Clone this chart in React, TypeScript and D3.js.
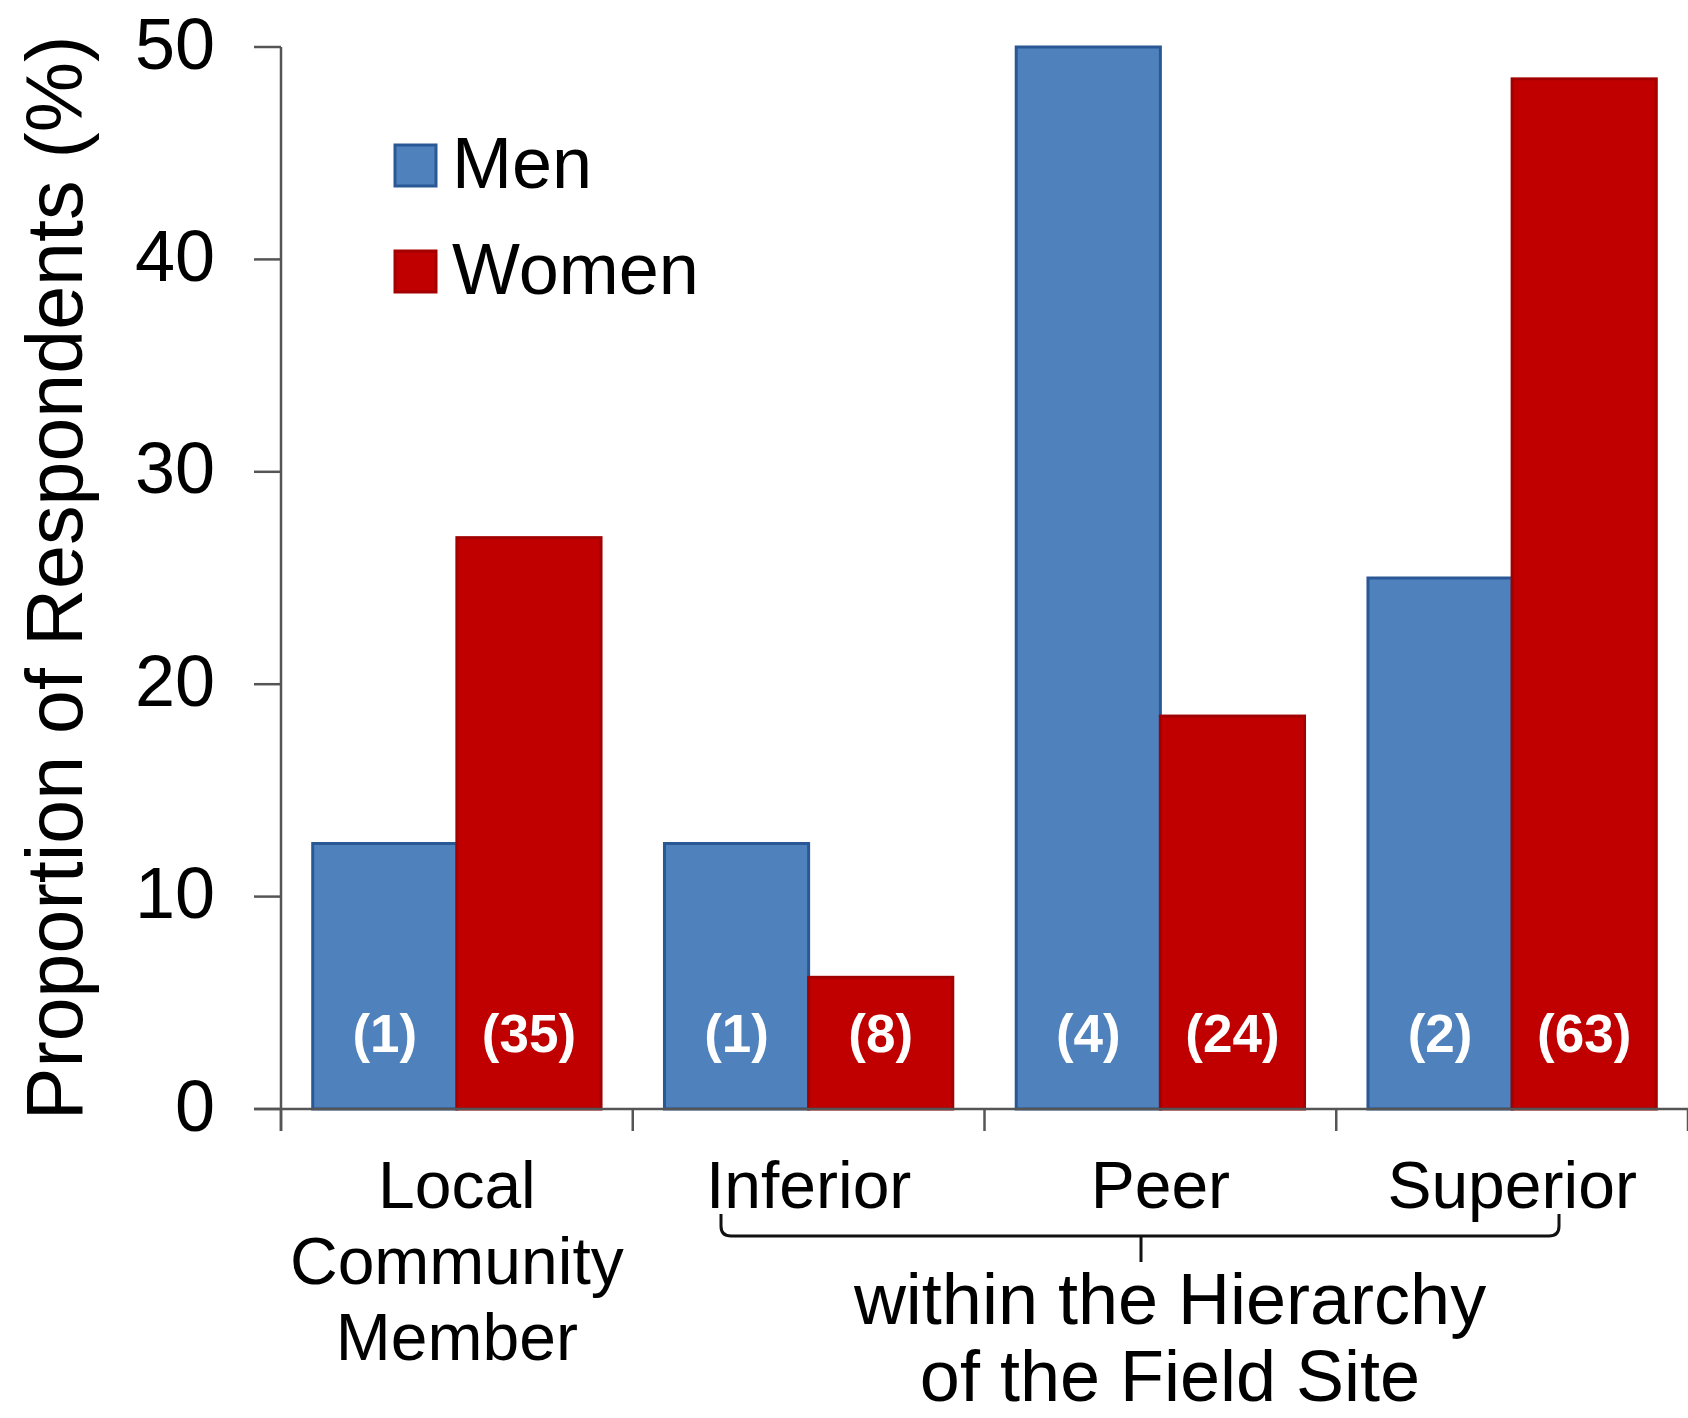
import React from "react";
import * as d3 from "d3";

// Categories along the x axis
const categories = ["Local", "Inferior", "Peer", "Superior"];
const categoryLines: string[][] = [
  ["Local", "Community", "Member"],
  ["Inferior"],
  ["Peer"],
  ["Superior"],
];
const seriesNames = ["Men", "Women"];

// Proportion of respondents (%) per category
const menValues = [12.5, 12.5, 50.0, 25.0];
const womenValues = [26.9, 6.2, 18.5, 48.5];

// Number of respondents shown inside each bar
const menCounts = [1, 1, 4, 2];
const womenCounts = [35, 8, 24, 63];

const yTicks = [0, 10, 20, 30, 40, 50];
const yTitle = "Proportion of Respondents (%)";
const groupLabel = ["within the Hierarchy", "of the Field Site"];

const W = 1688;
const H = 1418;
const FONT = "'Liberation Sans', Arial, Helvetica, sans-serif";

const fills: Record<string, string> = { Men: "#4F81BD", Women: "#C00000" };
const strokes: Record<string, string> = { Men: "#2A5896", Women: "#A30000" };

export default function App() {
  const left = 281;
  const right = 1688;
  const y = d3.scaleLinear().domain([0, 50]).range([1109, 47]);
  const x = d3.scaleBand<string>().domain(categories).range([left, right]).paddingInner(0).paddingOuter(0);
  const xs = d3
    .scaleBand<string>()
    .domain(seriesNames)
    .range([0, x.bandwidth()])
    .paddingInner(0)
    .paddingOuter(0.22);

  const series = [
    { name: "Men", values: menValues, counts: menCounts },
    { name: "Women", values: womenValues, counts: womenCounts },
  ];

  const y0 = y(0);
  const bandEdges = [...categories.map((c) => x(c)!), right];
  const axisColor = "#555";

  // bracket grouping the hierarchy categories
  const bx0 = 721;
  const bx1 = 1559;
  const bTop = 1214;
  const bLine = 1236;
  const bMid = 1141;
  const r = 10;
  const bracketPath = [
    `M${bx0},${bTop}`,
    `L${bx0},${bLine - r}`,
    `Q${bx0},${bLine} ${bx0 + r},${bLine}`,
    `L${bx1 - r},${bLine}`,
    `Q${bx1},${bLine} ${bx1},${bLine - r}`,
    `L${bx1},${bTop}`,
    `M${bMid},${bLine}`,
    `L${bMid},${bLine + 26}`,
  ].join(" ");

  return (
    <svg
      width={W}
      height={H}
      viewBox={`0 0 ${W} ${H}`}
      style={{ position: "absolute", left: 0, top: 0, background: "#fff" }}
      fontFamily={FONT}
    >
      <rect x={0} y={0} width={W} height={H} fill="#fff" />

      {/* bars */}
      {series.map((s) =>
        categories.map((c, i) => {
          const bx = x(c)! + xs(s.name)!;
          const by = y(s.values[i]);
          return (
            <g key={s.name + c}>
              <rect
                x={bx}
                y={by}
                width={xs.bandwidth()}
                height={y0 - by}
                fill={fills[s.name]}
                stroke={strokes[s.name]}
                strokeWidth={3}
              />
              <text
                x={bx + xs.bandwidth() / 2}
                y={1052}
                textAnchor="middle"
                fill="#fff"
                fontWeight="bold"
                fontSize={53}
              >
                ({s.counts[i]})
              </text>
            </g>
          );
        })
      )}

      {/* y axis */}
      <line x1={left} x2={left} y1={y(50)} y2={y0 + 22} stroke={axisColor} strokeWidth={2.5} />
      {yTicks.map((t) => (
        <g key={t}>
          <line x1={left - 27} x2={left} y1={y(t)} y2={y(t)} stroke={axisColor} strokeWidth={2.5} />
          <text x={215} y={y(t)} dy="0.3em" textAnchor="end" fontSize={72} fill="#000">
            {t}
          </text>
        </g>
      ))}

      {/* x axis */}
      <line x1={left - 27} x2={right} y1={y0} y2={y0} stroke={axisColor} strokeWidth={2.5} />
      {bandEdges.map((e, i) => (
        <line key={i} x1={e} x2={e} y1={y0} y2={y0 + 22} stroke={axisColor} strokeWidth={2.5} />
      ))}

      {/* category labels */}
      {categories.map((c, i) => (
        <text key={c} textAnchor="middle" fontSize={66} fill="#000">
          {categoryLines[i].map((ln, j) => (
            <tspan key={j} x={x(c)! + x.bandwidth() / 2} y={1208 + j * 76}>
              {ln}
            </tspan>
          ))}
        </text>
      ))}

      {/* bracket and group label */}
      <path d={bracketPath} fill="none" stroke="#111" strokeWidth={3} />
      {groupLabel.map((ln, j) => (
        <text key={j} x={1170} y={1324 + j * 77} textAnchor="middle" fontSize={72} fill="#000">
          {ln}
        </text>
      ))}

      {/* y title */}
      <text
        transform={`translate(82, ${(y(0) + y(50)) / 2}) rotate(-90)`}
        textAnchor="middle"
        fontSize={79}
        fill="#000"
      >
        {yTitle}
      </text>

      {/* legend */}
      {seriesNames.map((n, i) => (
        <g key={n} transform={`translate(395, ${145 + i * 106})`}>
          <rect x={0} y={0} width={41} height={41} fill={fills[n]} stroke={strokes[n]} strokeWidth={3} />
          <text x={57} y={43} fontSize={72} fill="#000">
            {n}
          </text>
        </g>
      ))}
    </svg>
  );
}
